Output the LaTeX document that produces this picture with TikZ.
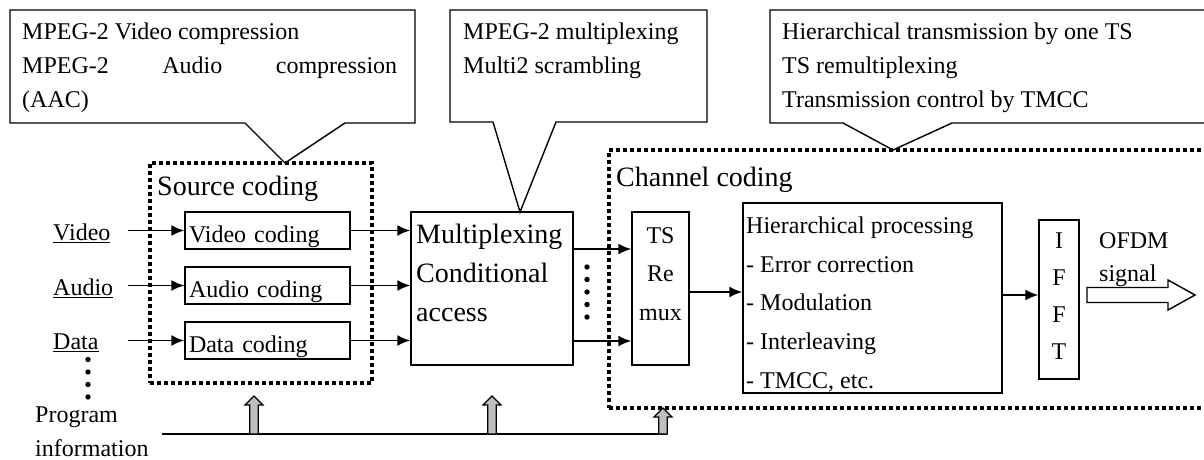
\documentclass[tikz,border=0pt]{standalone}
\usepackage{fontspec}
\setmainfont{Liberation Serif}
\usetikzlibrary{arrows.meta,calc}
\tikzset{
  box/.style={draw,line width=1.4pt,inner sep=0pt},
  dotbox/.style={draw,line width=3.5pt,dash pattern=on 4pt off 3pt,inner sep=0pt},
  coding/.style={box,minimum width=165,minimum height=37,inner xsep=4pt,text width=157pt,
    align=left,text height=23pt,text depth=0pt,font=\fontsize{24}{24}\selectfont},
  txt/.style={inner sep=0pt,anchor=north west,align=left,font=\fontsize{24}{#1}\selectfont},
  txt/.default=34,
  bigtxt/.style={inner sep=0pt,anchor=north west,align=left,font=\fontsize{28}{39}\selectfont},
  flow/.style={-{Latex[length=13pt,width=11pt]},line width=1.8pt},
  feed/.style={draw,line width=1.2pt,fill=black!25},
  callout/.style={draw,line width=1.4pt}}
\newcommand{\tstr}{\rule{0pt}{20pt}}

\begin{document}
\begin{tikzpicture}[x=1pt,y=-1pt]
  \useasboundingbox (0,0) rectangle (1204,460);
  \clip (0,0) rectangle (1204,460);
  % callouts
  \draw[callout] (10,10) -- (415,10) -- (415,123) -- (345,123) -- (285,163) -- (245,123) -- (10,123) -- cycle;
  \node[txt] (co1) at (22,19) {\tstr MPEG-2 Video compression\\\makebox[375pt][s]{MPEG-2 Audio compression}\\(AAC)};
  \draw[callout] (450,10) -- (707,10) -- (707,122) -- (556,122) -- (520,212) -- (493,122) -- (450,122) -- cycle;
  \node[txt] (co2) at (463,19) {\tstr MPEG-2 multiplexing\\Multi2 scrambling};
  \draw[callout] (770,10) -- (1210,10) -- (1210,123) -- (952,123) -- (893,150) -- (843,123) -- (770,123) -- cycle;
  \node[txt] (co3) at (782,19) {\tstr Hierarchical transmission by one TS\\TS remultiplexing\\Transmission control by TMCC};

  % source coding
  \node[dotbox,minimum width=222,minimum height=220] (src) at (261,273) {};
  \node[bigtxt] (srclbl) at (157,175) {\tstr Source coding};
  \node[coding] (vid) at (267.5,230.5) {Video coding};
  \node[coding] (aud) at (267.5,285.5) {Audio coding};
  \node[coding] (dat) at (267.5,340.5) {Data coding};
  \node[txt] (vlab) at (53,220) {\tstr\underline{Video}};
  \node[txt] (alab) at (53,275) {\tstr\underline{Audio}};
  \node[txt] (dlab) at (53,329) {\tstr\underline{Data}};
  \foreach \y in {359.5,372,384.5,397}
    \fill (88,\y) circle[radius=2.7pt];
  \node[txt] (prog) at (35,402) {\tstr Program\\information};

  % multiplexing
  \node[box,minimum width=162,minimum height=153] (mux) at (492,288.5) {};
  \node[bigtxt] (muxtxt) at (416,223) {\tstr Multiplexing\\Conditional\\access};

  % channel coding
  \node[dotbox,minimum width=601,minimum height=258] (chan) at (909.5,279) {};
  \node[bigtxt] (chanlbl) at (616,166) {\tstr Channel coding};
  \node[box,minimum width=57,minimum height=153] (remux) at (660.5,288.5) {};
  \node[txt=38.5,anchor=north,align=center] (remuxtxt) at (660.5,223) {\tstr TS\\Re\\mux};
  \node[box,minimum width=259,minimum height=190] (hier) at (872.5,298) {};
  \node[txt=38.8] (hiertxt) at (746,213) {\tstr Hierarchical processing\\- Error correction\\- Modulation\\- Interleaving\\- TMCC, etc.};
  \node[box,minimum width=40,minimum height=159] (iff) at (1059,299.5) {};
  \node[txt=37,anchor=north,align=center] (ifftxt) at (1059,228) {\tstr I\\F\\F\\T};
  \node[txt=33.5] (ofdm) at (1099,228) {\tstr OFDM\\signal};

  % signal flow
  \coordinate (inx) at (128,0);
  \draw[flow] (inx |- vid.west) -- (vid.west);
  \draw[flow] (inx |- aud.west) -- (aud.west);
  \draw[flow] (inx |- dat.west) -- (dat.west);
  \draw[flow] (vid.east) -- (vid.east -| mux.west);
  \draw[flow] (aud.east) -- (aud.east -| mux.west);
  \draw[flow] (dat.east) -- (dat.east -| mux.west);
  \path ([yshift=39.5]mux.east) coordinate (mt) ([yshift=-52.5]mux.east) coordinate (mb);
  \draw[flow] (mt) -- (mt -| remux.west);
  \draw[flow] (mb) -- (mb -| remux.west);
  \foreach \y in {267,279.5,292,304.5,317}
    \fill (587,\y) circle[radius=2.7pt];
  \path ([yshift=-3.5]remux.east) coordinate (rx);
  \draw[flow] (rx) -- (rx -| hier.west);
  \path ([yshift=3]hier.east) coordinate (hx);
  \draw[flow] (hx) -- (hx -| iff.west);
  \coordinate (oa) at (1087,295);
  \draw[line width=1.4pt] (oa) ++(0,-7.5) -- ++(81,0) -- ++(0,-7.5) -- ++(27,15) -- ++(-27,15) -- ++(0,-7.5) -- ++(-81,0) -- cycle;

  % program information bus
  \coordinate (busL) at (162,434);
  \coordinate (busR) at (667,434);
  \draw[line width=2.8pt] (busL) -- (busR);
  \foreach \x/\t in {254/396,492/396,663/408}
    \draw[feed] (\x-4.3,434) -- (\x-4.3,\t+9) -- (\x-9,\t+9) -- (\x,\t) -- (\x+9,\t+9) -- (\x+4.3,\t+9) -- (\x+4.3,434) -- cycle;
\end{tikzpicture}
\end{document}
